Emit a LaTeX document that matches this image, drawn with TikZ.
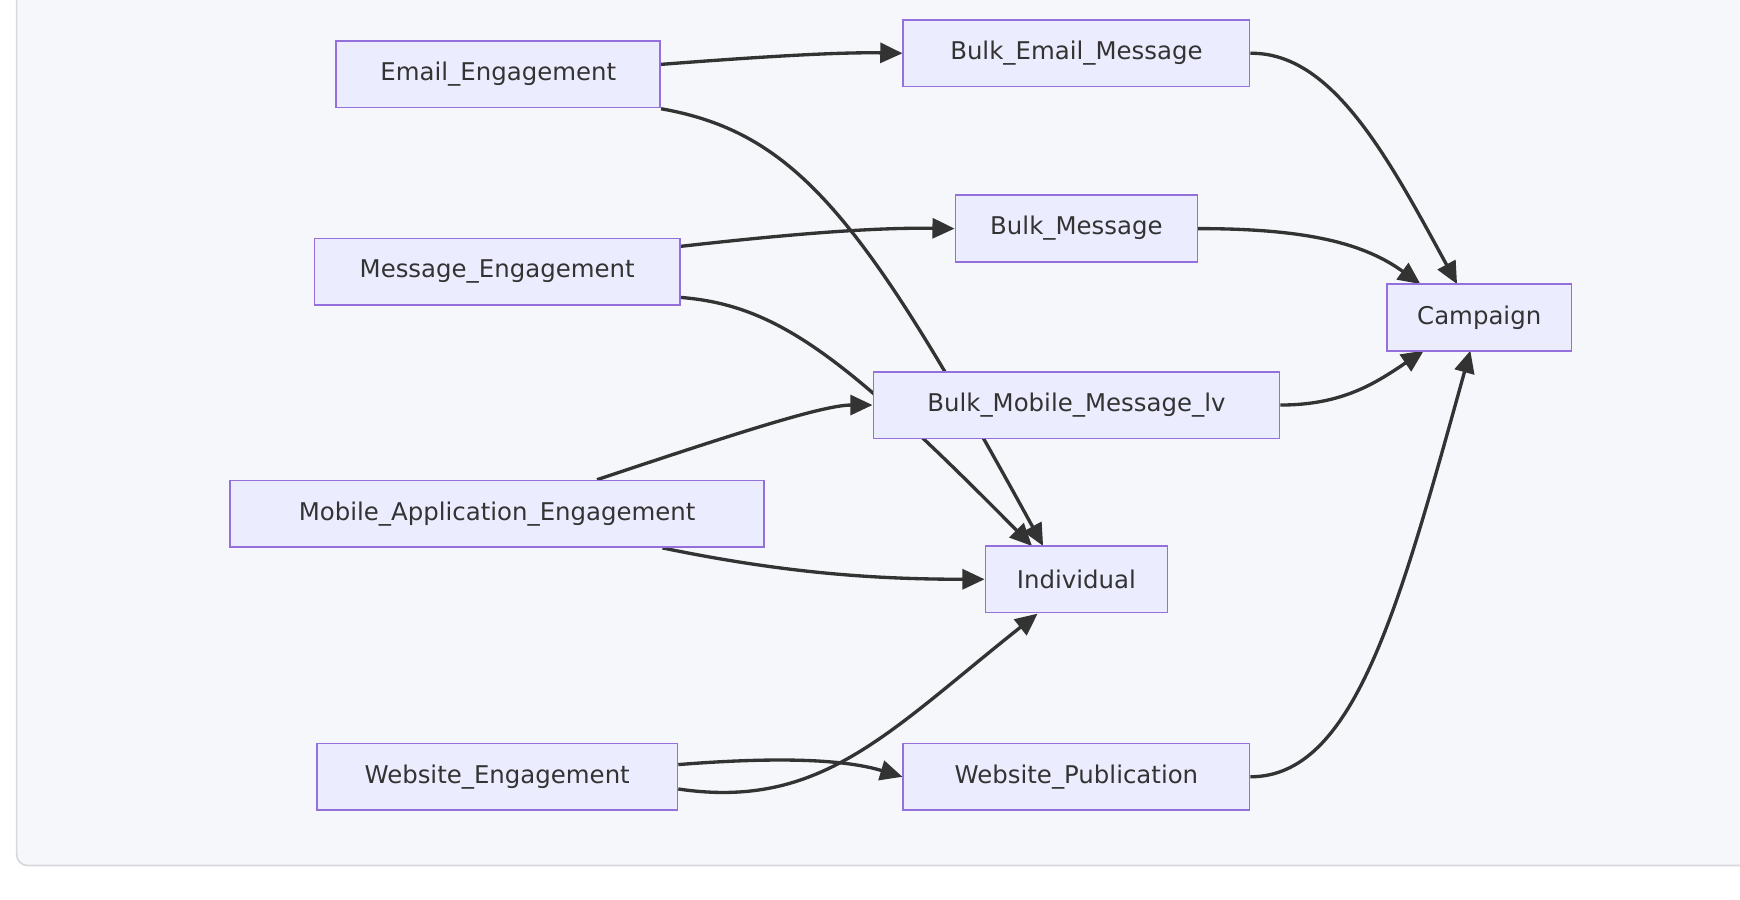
\documentclass[tikz,border=0pt]{standalone}
\usepackage{fontspec}
\setmainfont{DejaVu Sans}
\usetikzlibrary{arrows.meta}
\definecolor{nfill}{HTML}{ECECFF}
\definecolor{nline}{HTML}{9370DB}
\definecolor{edge}{HTML}{333333}
\definecolor{bg}{HTML}{F6F7FA}
\definecolor{bord}{HTML}{D6D8DE}
\begin{document}
\begin{tikzpicture}[x=1pt,y=-1pt,
  box/.style={draw=nline,fill=nfill,line width=1.5pt,minimum height=60pt,inner xsep=14pt,font=\fontsize{22}{26}\selectfont,text=edge},
  ar/.style={draw=edge,line width=3pt,-{Triangle[length=20pt,width=18pt]}}]
\useasboundingbox (0,0) rectangle (1568,811);
\draw[bord,fill=bg,line width=1.5pt,rounded corners=10pt] (15,-20) rectangle (1600,780);
\node[box,minimum width=292pt] (ee) at (449,67) {Email\_Engagement};
\node[box,minimum width=312pt] (bem) at (970,48) {Bulk\_Email\_Message};
\node[box,minimum width=329pt] (me) at (448,245) {Message\_Engagement};
\node[box,minimum width=218pt] (bm) at (970,206) {Bulk\_Message};
\node[box,minimum width=166pt] (ca) at (1333,286) {Campaign};
\node[box,minimum width=366pt] (bmm) at (970,365) {Bulk\_Mobile\_Message\_lv};
\node[box,minimum width=481pt] (mae) at (448,463) {Mobile\_Application\_Engagement};
\node[box,minimum width=164pt] (ind) at (970,522) {Individual};
\node[box,minimum width=325pt] (we) at (448,700) {Website\_Engagement};
\node[box,minimum width=312pt] (wp) at (970,700) {Website\_Publication};
\begin{scope}[on background layer/.style={}]
\end{scope}
\path[ar] ([yshift=9]ee.east) .. controls (700,50) and (760,47) .. (bem.west);
\path[ar] ([yshift=-31]ee.east) .. controls (720,120) and (780,200) .. (940,492);
\path[ar] ([yshift=23]me.east) .. controls (720,210) and (790,205) .. (bm.west);
\path[ar] ([yshift=-23]me.east) .. controls (700,275) and (760,320) .. (930,492);
\path[ar] ([xshift=90]mae.north) .. controls (650,395) and (740,365) .. (bmm.west);
\path[ar] ([xshift=149]mae.south) .. controls (700,515) and (780,522) .. (ind.west);
\path[ar] ([yshift=11]we.east) .. controls (700,682) and (760,684) .. (wp.west);
\path[ar] ([yshift=-11]we.east) .. controls (740,730) and (800,660) .. (935,553);
\path[ar] (bem.east) .. controls (1200,47) and (1250,140) .. (1313,256);
\path[ar] (bm.east) .. controls (1180,206) and (1230,220) .. (1280,256);
\path[ar] (bmm.east) .. controls (1210,365) and (1240,345) .. (1283,316);
\path[ar] (wp.east) .. controls (1220,700) and (1260,550) .. (1325,316);
% redraw nodes on top
\node[box,minimum width=292pt] at (ee) {Email\_Engagement};
\node[box,minimum width=312pt] at (bem) {Bulk\_Email\_Message};
\node[box,minimum width=329pt] at (me) {Message\_Engagement};
\node[box,minimum width=218pt] at (bm) {Bulk\_Message};
\node[box,minimum width=166pt] at (ca) {Campaign};
\node[box,minimum width=366pt] at (bmm) {Bulk\_Mobile\_Message\_lv};
\node[box,minimum width=481pt] at (mae) {Mobile\_Application\_Engagement};
\node[box,minimum width=164pt] at (ind) {Individual};
\node[box,minimum width=325pt] at (we) {Website\_Engagement};
\node[box,minimum width=312pt] at (wp) {Website\_Publication};
\end{tikzpicture}
\end{document}
